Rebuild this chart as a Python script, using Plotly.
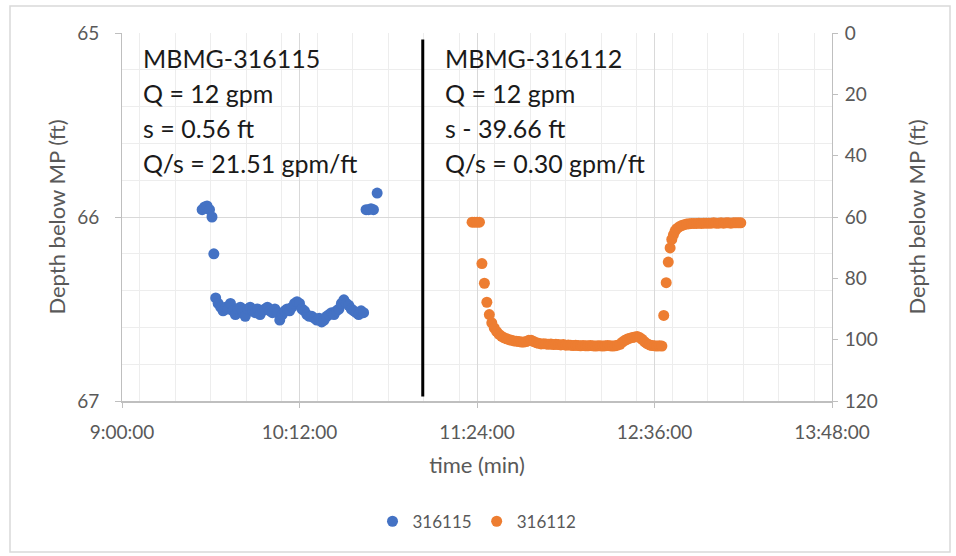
import pandas as pd
import plotly.graph_objects as go

DAY = "2021-01-01 "

# ---- data: well 316115 (left axis, ft) ----
blue_times = [
    "9:32:30", "9:33:30", "9:34:30", "9:35:30", "9:36:30", "9:37:15",
    "9:38:00", "9:39:00", "9:40:00", "9:41:00", "9:42:00", "9:43:00", "9:44:00", "9:45:00",
    "9:46:00", "9:47:00", "9:48:00", "9:49:00", "9:50:00", "9:51:00", "9:52:00", "9:53:00",
    "9:54:00", "9:55:00", "9:56:00", "9:57:00", "9:58:00", "9:59:00", "10:00:00", "10:01:00",
    "10:02:00", "10:03:00", "10:04:00", "10:05:00", "10:06:00", "10:07:00", "10:08:00",
    "10:09:00", "10:10:00", "10:11:00", "10:12:00", "10:13:00", "10:14:00", "10:15:00",
    "10:16:00", "10:17:00", "10:18:00", "10:19:00", "10:20:00", "10:21:00", "10:22:00",
    "10:23:00", "10:24:00", "10:25:00", "10:26:00", "10:27:00", "10:28:00", "10:29:00",
    "10:30:00", "10:31:00", "10:32:00", "10:33:00", "10:34:00", "10:35:00", "10:36:00",
    "10:37:00", "10:38:00",
    "10:39:00", "10:40:00", "10:41:00", "10:42:00", "10:43:30",
]
blue_depth = [
    65.96, 65.945, 65.94, 65.96, 66.00, 66.20,
    66.44, 66.47, 66.49, 66.51, 66.49, 66.50, 66.47, 66.51,
    66.53, 66.50, 66.49, 66.51, 66.54, 66.50, 66.49, 66.51,
    66.52, 66.50, 66.53, 66.51, 66.50, 66.49, 66.51, 66.52,
    66.50, 66.52, 66.56, 66.53, 66.51, 66.50, 66.51,
    66.49, 66.47, 66.46, 66.47, 66.50, 66.51, 66.53,
    66.54, 66.54, 66.55, 66.56, 66.55, 66.57, 66.56,
    66.54, 66.53, 66.52, 66.53, 66.51, 66.50, 66.47,
    66.45, 66.47, 66.48, 66.50, 66.51, 66.52, 66.53,
    66.51, 66.52,
    65.96, 65.96, 65.955, 65.96, 65.87,
]

# ---- data: well 316112 (right axis, ft) ----
orange_times = [
    "11:22:00", "11:23:00", "11:24:00", "11:25:00", "11:26:00", "11:27:00", "11:28:00",
    "11:29:00", "11:30:00", "11:31:00", "11:32:00", "11:33:00", "11:34:00", "11:35:00",
    "11:36:00", "11:37:00", "11:38:00", "11:39:00", "11:40:00", "11:41:00", "11:42:00",
    "11:43:00", "11:44:00", "11:45:00", "11:46:00", "11:47:00", "11:48:00", "11:49:00",
    "11:50:00", "11:51:00", "11:52:00", "11:53:00", "11:54:00", "11:55:00", "11:56:00",
    "11:57:00", "11:58:00", "11:59:00", "12:00:00", "12:01:00", "12:02:00", "12:03:00",
    "12:04:00", "12:05:00", "12:06:00", "12:07:00", "12:08:00", "12:09:00", "12:10:00",
    "12:11:00", "12:12:00", "12:13:00", "12:14:00", "12:15:00", "12:16:00", "12:17:00",
    "12:18:00", "12:19:00", "12:20:00", "12:21:00", "12:22:00", "12:23:00", "12:24:00",
    "12:25:00", "12:26:00", "12:27:00", "12:28:00", "12:29:00", "12:30:00", "12:31:00",
    "12:32:00", "12:33:00", "12:34:00", "12:35:00", "12:36:00", "12:37:00", "12:38:00",
    "12:39:00",
    "12:39:45", "12:40:45", "12:41:35", "12:42:20", "12:43:00", "12:43:40", "12:44:20",
    "12:45:00", "12:46:00", "12:47:00", "12:48:00", "12:49:00", "12:50:00", "12:51:00",
    "12:52:00", "12:53:00", "12:54:00", "12:55:00", "12:56:00", "12:57:00", "12:58:00",
    "12:59:00", "13:00:00", "13:01:00", "13:02:00", "13:03:00", "13:04:00", "13:05:00",
    "13:06:00", "13:07:00", "13:08:00", "13:09:00", "13:10:00", "13:11:00",
]
orange_depth = [
    61.7, 61.7, 61.7, 61.7, 75.2, 81.6, 87.8,
    91.8, 94.5, 96.2, 97.4, 98.3, 98.9, 99.4,
    99.7, 100.0, 100.2, 100.4, 100.5, 100.6, 100.8,
    100.8, 100.6, 100.2, 100.2, 100.6, 101.0, 101.2,
    101.4, 101.3, 101.4, 101.5, 101.4, 101.6, 101.5,
    101.6, 101.7, 101.6, 101.8, 101.7, 101.8, 101.9,
    101.8, 101.9, 102.0, 101.9, 102.0, 102.0, 101.9,
    102.0, 102.1, 102.0, 102.0, 102.1, 102.0, 101.9,
    102.0, 102.1, 102.0, 101.8, 101.5, 100.8, 100.2,
    99.8, 99.5, 99.3, 99.1, 99.0, 99.3, 99.9,
    100.7, 101.3, 101.7, 101.9, 102.0, 102.1, 102.0,
    102.1,
    92.1, 81.4, 74.7, 70.1, 67.3, 65.8, 64.6,
    63.8, 63.2, 62.8, 62.5, 62.3, 62.2, 62.1,
    62.1, 62.1, 62.0, 62.1, 62.0, 62.0, 62.0,
    62.0, 61.9, 62.0, 62.0, 61.9, 62.0, 61.9,
    61.9, 62.0, 61.9, 61.9, 61.9, 61.9,
]

x_range = ["9:00:00", "13:48:00"]
divider_time = "11:02:00"

left_lines = ["MBMG-316115", "Q = 12 gpm", "s = 0.56 ft", "Q/s = 21.51 gpm/ft"]
right_lines = ["MBMG-316112", "Q = 12 gpm", "s - 39.66 ft", "Q/s = 0.30 gpm/ft"]


def ts(t):
    return pd.to_datetime(DAY + t)


BLUE = "#4472C4"
ORANGE = "#ED7D31"
TXT = "#595959"
FONT = "Lato"

fig = go.Figure()
fig.add_trace(go.Scatter(
    x=[ts(t) for t in blue_times], y=blue_depth, mode="markers", name="316115",
    marker=dict(color=BLUE, size=11), yaxis="y",
))
fig.add_trace(go.Scatter(
    x=[ts(t) for t in orange_times], y=orange_depth, mode="markers", name="316112",
    marker=dict(color=ORANGE, size=11), yaxis="y2",
))

W, H = 956, 556
L, R, T, B = 122, 124, 33, 155

fig.update_layout(
    width=W, height=H,
    margin=dict(l=L, r=R, t=T, b=B),
    paper_bgcolor="white", plot_bgcolor="white",
    font=dict(family=FONT, color=TXT, size=16),
    showlegend=True,
    legend=dict(orientation="h", x=0.5, xanchor="center", y=-0.328, yanchor="middle",
                font=dict(size=17, color=TXT), itemwidth=30, tracegroupgap=0),
    xaxis=dict(
        type="date", range=[ts(x_range[0]), ts(x_range[1])],
        tick0=ts(x_range[0]), dtick=72 * 60 * 1000, tickformat="%-H:%M:%S",
        showgrid=True, gridcolor="#D9D9D9", gridwidth=1,
        minor=dict(dtick=72 * 60 * 1000 / 5, showgrid=True, gridcolor="#EDEDED", gridwidth=1),
        showline=True, linecolor="#BFBFBF", linewidth=1.5,
        ticks="outside", ticklen=5, tickcolor="#BFBFBF",
        tickfont=dict(size=19, color=TXT), ticklabelstandoff=8,
        title=dict(text="time (min)", font=dict(size=22, color=TXT), standoff=16),
        zeroline=False,
    ),
    yaxis=dict(
        range=[67, 65], tick0=65, dtick=1,
        showgrid=True, gridcolor="#D9D9D9", gridwidth=1,
        minor=dict(dtick=0.2, showgrid=True, gridcolor="#EDEDED", gridwidth=1),
        showline=True, linecolor="#BFBFBF", linewidth=1,
        ticks="outside", ticklen=6, tickcolor="#BFBFBF",
        tickfont=dict(size=19, color=TXT), ticklabelstandoff=12,
        title=dict(text="Depth below MP (ft)", font=dict(size=22, color=TXT), standoff=5),
        zeroline=False,
    ),
    yaxis2=dict(
        range=[120, 0], tick0=0, dtick=20, overlaying="y", side="right",
        showgrid=False, showline=True, linecolor="#BFBFBF", linewidth=1,
        ticks="outside", ticklen=5, tickcolor="#BFBFBF",
        tickfont=dict(size=19, color=TXT), ticklabelstandoff=3,
        title=dict(text="Depth below MP (ft)", font=dict(size=22, color=TXT), standoff=32),
        zeroline=False,
    ),
)

# vertical divider between the two tests
fig.add_shape(type="line", xref="x", yref="y",
              x0=ts(divider_time), x1=ts(divider_time), y0=65.036, y1=66.975,
              line=dict(color="black", width=3))

# chart-area border
fig.add_shape(type="rect", xref="paper", yref="paper",
              x0=(10 - L) / (W - L - R), x1=(950 - L) / (W - L - R),
              y0=-(B - 4) / (H - T - B), y1=1 + (T - 6) / (H - T - B),
              line=dict(color="#D9D9D9", width=1.5), layer="below")

plot_h = H - T - B
plot_w = W - L - R
line_y = [58, 93, 128, 163]
for lines, xpx in ((left_lines, 141), (right_lines, 443)):
    for txt, ypx in zip(lines, line_y):
        fig.add_annotation(
            text=txt, xref="paper", yref="paper",
            x=(xpx - L) / plot_w, y=1 - (ypx - T) / plot_h,
            xanchor="left", yanchor="middle", showarrow=False,
            font=dict(family=FONT, size=25, color="#1A1A1A"),
        )

fig.write_html(
    "out.html",
    config={"displayModeBar": False},
    post_script="document.body.style.margin='0';document.body.style.padding='0';",
)
